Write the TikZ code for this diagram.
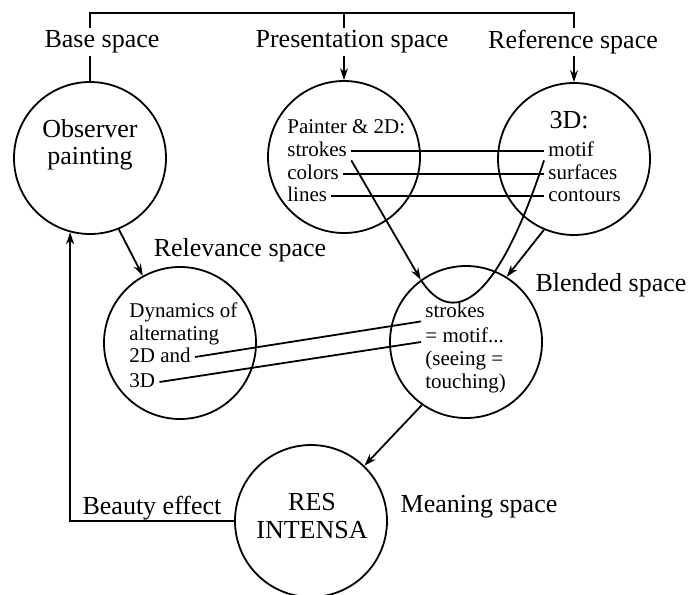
\documentclass[tikz,border=0pt]{standalone}
\usepackage{fontspec}
\setmainfont{Liberation Serif}
\usetikzlibrary{arrows.meta}

\tikzset{
  spacecirc/.style={circle, draw, line width=0.9pt, minimum size=76pt, inner sep=0pt},
  biglbl/.style={font=\fontsize{13}{13.5}\selectfont, inner sep=1pt, align=center},
  item/.style={font=\fontsize{10.5}{12}\selectfont, anchor=west, inner xsep=2pt, inner ysep=0pt,
    text height=7pt, text depth=2pt},
  conn/.style={line width=0.9pt},
  arr/.style={conn, -{Stealth[length=6pt,width=4pt]}}
}

\begin{document}
\begin{tikzpicture}[x=0.5pt, y=-0.5pt]
    \useasboundingbox (0,0) rectangle (688,594);

    % the six mental spaces
    \node[spacecirc] (obs)   at (90,158)  {};
    \node[spacecirc] (pres)  at (344,157) {};
    \node[spacecirc] (refc)  at (574,159) {};
    \node[spacecirc] (relv)  at (180,343) {};
    \node[spacecirc] (blend) at (466,342) {};
    \node[spacecirc] (res)   at (311,521) {};

    % space names
    \node[biglbl] (lbase)  at (102,42)  {Base space};
    \node[biglbl] (lpres)  at (352,42)  {Presentation space};
    \node[biglbl] (lref)   at (573,42)  {Reference space};
    \node[biglbl] (lrelv)  at (240,250) {Relevance space};
    \node[biglbl] (lblend) at (611,285) {Blended space};
    \node[biglbl] (lmean)  at (479,507) {Meaning space};
    \node[biglbl] (lbeaut) at (152,508) {Beauty effect};

    % contents
    \node[biglbl] (tobs) at (90,145)  {Observer\\painting};
    \node[biglbl, font=\fontsize{13}{14}\selectfont] (tres) at (312,516) {RES\\INTENSA};

    \node[item] (ps1) at (283,128) {Painter \& 2D:};
    \node[item] (ps2) at (283,151) {strokes};
    \node[item] (ps3) at (283,174) {colors};
    \node[item] (ps4) at (283,196) {lines};

    \node[biglbl] (rm0) at (569,120) {3D:};
    \node[item] (rm1) at (544,151) {motif};
    \node[item] (rm2) at (544,174) {surfaces};
    \node[item] (rm3) at (544,196) {contours};

    \node[item] (rl1) at (125,312) {Dynamics of};
    \node[item] (rl2) at (125,335) {alternating};
    \node[item] (rl3) at (125,357) {2D and};
    \node[item] (rl4) at (125,382) {3D};

    \node[item] (bs1) at (421,312) {strokes};
    \node[item] (bs2) at (421,337) {= motif...};
    \node[item] (bs3) at (421,360) {(seeing =};
    \node[item] (bs4) at (421,383) {touching)};

    % top bracket
    \coordinate (top) at (0,13);
    \draw[conn] (obs |- lbase.north) -- (obs |- top) -- (refc |- top) -- (refc |- lref.north);
    \draw[conn] (pres |- top) -- (pres |- lpres.north);

    % connectors
    \draw[conn] (obs |- lbase.south) -- (obs.north);
    \draw[arr] (pres |- lpres.south) -- (pres.north);
    \draw[arr] (refc |- lref.south) -- (refc.north);
    \draw[arr] (obs.-68) -- (relv.119);

    \draw[conn] (ps2.east) -- (rm1.west);
    \draw[conn] (ps3.east) -- (rm2.west);
    \draw[conn] (ps4.east) -- (rm3.west);

    \draw[arr] (ps2.south east) -- (blend.126);
    \draw[conn] (rm1.south west) .. controls (485,340) and (440,310) .. (blend.126);
    \draw[arr] (refc.247) -- (blend.58);

    \draw[conn] (rl3.east) -- (bs1.south west);
    \draw[conn] (rl4.east) -- (bs2.base west);

    \draw[arr] (blend.235) -- (res.46);
    \draw[arr] (res.west) -| (obs.255);
\end{tikzpicture}
\end{document}
